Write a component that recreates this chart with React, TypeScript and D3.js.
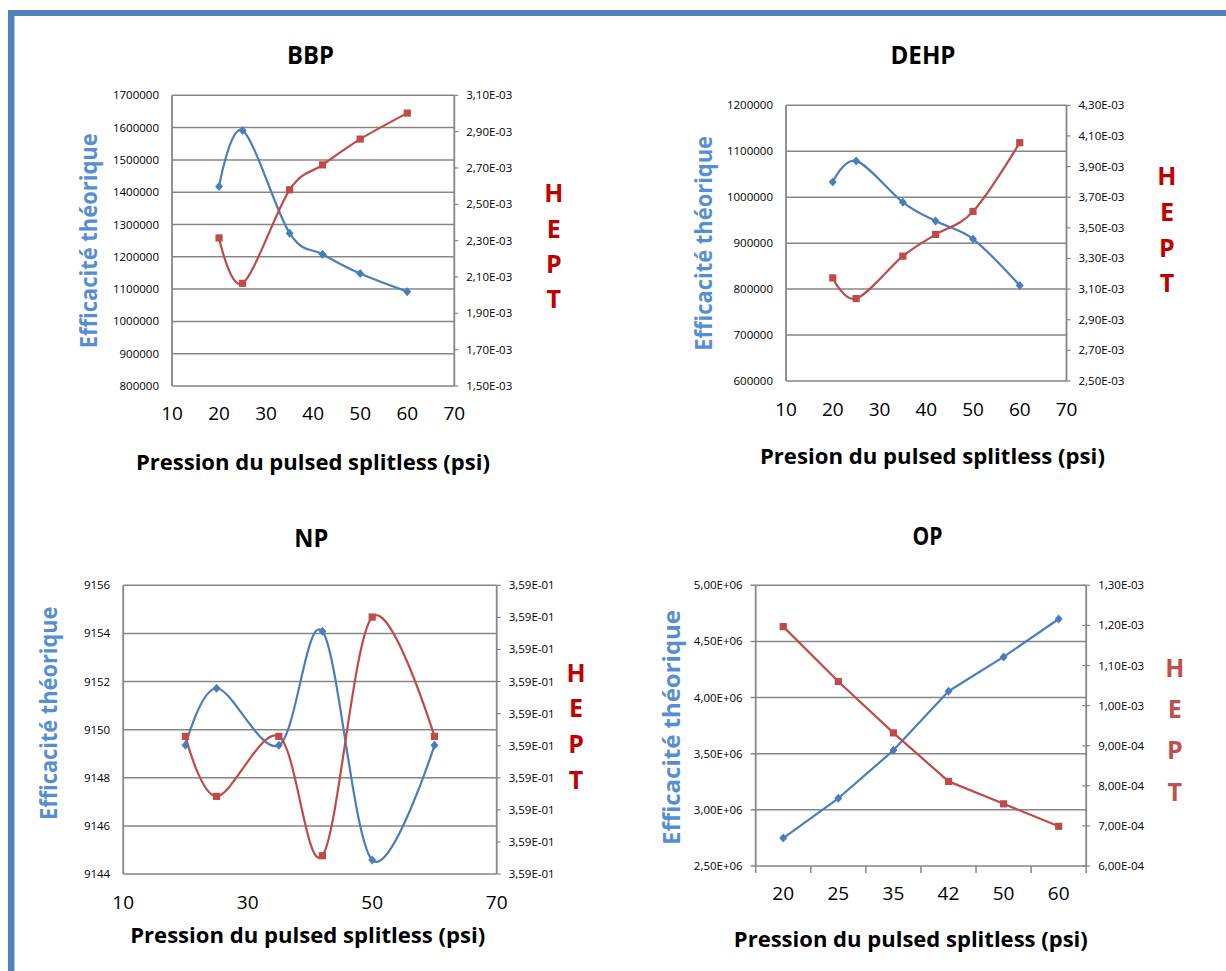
import React from "react";
import * as d3 from "d3";

// ---------- DATA ----------
const pressures = [20, 25, 35, 42, 50, 60];
const opCategories = ["20", "25", "35", "42", "50", "60"];

const bbpEfficacite = [1418000, 1591000, 1273000, 1208000, 1148000, 1092000];
const bbpHept = [2.315e-3, 2.065e-3, 2.58e-3, 2.717e-3, 2.859e-3, 3.002e-3];

const dehpEfficacite = [1033000, 1079000, 989000, 948000, 909000, 808000];
const dehpHept = [3.173e-3, 3.038e-3, 3.315e-3, 3.457e-3, 3.607e-3, 4.056e-3];

const npEfficacite = [9149.35, 9151.72, 9149.35, 9154.09, 9144.58, 9149.35];
const npHept = [0.3590029, 0.3589842, 0.3590029, 0.3589657, 0.3590401, 0.3590029];

const opEfficacite = [2.749e6, 3.103e6, 3.53e6, 4.056e6, 4.362e6, 4.7e6];
const opHept = [1.197e-3, 1.06e-3, 0.932e-3, 0.811e-3, 0.755e-3, 0.699e-3];

const bbpLeftTicks = [800000, 900000, 1000000, 1100000, 1200000, 1300000, 1400000, 1500000, 1600000, 1700000];
const bbpRightTicks = [1.5e-3, 1.7e-3, 1.9e-3, 2.1e-3, 2.3e-3, 2.5e-3, 2.7e-3, 2.9e-3, 3.1e-3];
const dehpLeftTicks = [600000, 700000, 800000, 900000, 1000000, 1100000, 1200000];
const dehpRightTicks = [2.5e-3, 2.7e-3, 2.9e-3, 3.1e-3, 3.3e-3, 3.5e-3, 3.7e-3, 3.9e-3, 4.1e-3, 4.3e-3];
const npLeftTicks = [9144, 9146, 9148, 9150, 9152, 9154, 9156];
const npRightTicks = [0.35896, 0.35897, 0.35898, 0.35899, 0.359, 0.35901, 0.35902, 0.35903, 0.35904, 0.35905];
const opLeftTicks = [2.5e6, 3e6, 3.5e6, 4e6, 4.5e6, 5e6];
const opRightTicks = [6e-4, 7e-4, 8e-4, 9e-4, 1e-3, 1.1e-3, 1.2e-3, 1.3e-3];
const xTicksTen = [10, 20, 30, 40, 50, 60, 70];
const xTicksTwenty = [10, 30, 50, 70];

const yTitle = "Efficacité théorique";
const heptLetters = ["H", "E", "P", "T"];

// ---------- STYLE ----------
const BLUE = "#4A7EBB";
const RED = "#BE4B48";
const GRID = "#868686";
const FONT = "'Open Sans', 'Liberation Sans', sans-serif";

function sci(v: number): string {
  const s = v.toExponential(2);
  const [m, e] = s.split("e");
  const n = parseInt(e, 10);
  return m.replace(".", ",") + "E" + (n < 0 ? "-" : "+") + String(Math.abs(n)).padStart(2, "0");
}
const plain = (v: number) => String(Math.round(v));

interface PanelProps {
  title: string;
  titleX: number;
  titleY: number;
  titleLen: number;
  xTitle: string;
  xTitleX: number;
  xTitleY: number;
  xTitleLen: number;
  yTitleX: number;
  yTitleY: number;
  yTitleLen: number;
  yTitleColor: string;
  heptX: number;
  heptY: number[];
  heptColor: string;
  x0: number;
  x1: number;
  y0: number;
  y1: number;
  categorical: boolean;
  xDomain?: [number, number];
  xTicks?: number[];
  xLabelY: number;
  leftTicks: number[];
  rightTicks: number[];
  leftFmt: (v: number) => string;
  rightFmt: (v: number) => string;
  blue: number[];
  red: number[];
  smooth: boolean;
  leftTickMarks: boolean;
}

function Panel(p: PanelProps) {
  const leftY = d3
    .scaleLinear()
    .domain([p.leftTicks[0], p.leftTicks[p.leftTicks.length - 1]])
    .range([p.y1, p.y0]);
  const rightY = d3
    .scaleLinear()
    .domain([p.rightTicks[0], p.rightTicks[p.rightTicks.length - 1]])
    .range([p.y1, p.y0]);

  let xPos: (i: number) => number;
  let band: d3.ScaleBand<string> | null = null;
  let lin: d3.ScaleLinear<number, number> | null = null;
  if (p.categorical) {
    band = d3.scaleBand<string>().domain(opCategories).range([p.x0, p.x1]);
    xPos = (i) => (band as d3.ScaleBand<string>)(opCategories[i])! + (band as d3.ScaleBand<string>).bandwidth() / 2;
  } else {
    lin = d3.scaleLinear().domain(p.xDomain!).range([p.x0, p.x1]);
    xPos = (i) => (lin as d3.ScaleLinear<number, number>)(pressures[i]);
  }

  const curve = p.smooth ? d3.curveCardinal.tension(0) : d3.curveLinear;
  const blueLine = d3
    .line<number>()
    .x((_, i) => xPos(i))
    .y((d) => leftY(d))
    .curve(curve);
  const redLine = d3
    .line<number>()
    .x((_, i) => xPos(i))
    .y((d) => rightY(d))
    .curve(curve);

  return (
    <g>
      <text
        x={p.titleX}
        y={p.titleY}
        textAnchor="middle"
        fontFamily={FONT}
        fontWeight="bold"
        fontSize={25}
        textLength={p.titleLen}
        lengthAdjust="spacingAndGlyphs"
        fill="#000"
      >
        {p.title}
      </text>

      {p.leftTicks.map((t) => (
        <line
          key={"g" + t}
          x1={p.leftTickMarks ? p.x0 - 5 : p.x0}
          x2={p.x1}
          y1={leftY(t)}
          y2={leftY(t)}
          stroke={GRID}
          strokeWidth={1.5}
        />
      ))}
      <line x1={p.x0} x2={p.x0} y1={p.y0} y2={p.y1} stroke={GRID} strokeWidth={1.8} />
      <line x1={p.x1} x2={p.x1} y1={p.y0} y2={p.y1} stroke={GRID} strokeWidth={1.8} />

      {p.rightTicks.map((t) => (
        <line
          key={"rt" + t}
          x1={p.categorical ? p.x1 - 4 : p.x1}
          x2={p.x1 + 4}
          y1={rightY(t)}
          y2={rightY(t)}
          stroke={GRID}
          strokeWidth={1.2}
        />
      ))}

      {band &&
        d3.range(opCategories.length + 1).map((i) => {
          const bx = p.x0 + i * band!.bandwidth();
          return <line key={"ct" + i} x1={bx} x2={bx} y1={p.y1} y2={p.y1 + 7} stroke={GRID} strokeWidth={1.5} />;
        })}

      {p.leftTicks.map((t) => (
        <text
          key={"ll" + t}
          x={p.x0 - 13}
          y={leftY(t)}
          dy="0.35em"
          textAnchor="end"
          fontFamily={FONT}
          fontSize={11.5}
          fill="#000"
        >
          {p.leftFmt(t)}
        </text>
      ))}
      {p.rightTicks.map((t) => (
        <text
          key={"rl" + t}
          x={p.x1 + 12}
          y={rightY(t)}
          dy="0.35em"
          textAnchor="start"
          fontFamily={FONT}
          fontSize={11.5}
          fill="#000"
        >
          {p.rightFmt(t)}
        </text>
      ))}

      {lin &&
        p.xTicks!.map((t) => (
          <text
            key={"xl" + t}
            x={lin!(t)}
            y={p.xLabelY}
            dy="0.36em"
            textAnchor="middle"
            fontFamily={FONT}
            fontSize={19}
            fill="#000"
          >
            {t}
          </text>
        ))}
      {band &&
        opCategories.map((c) => (
          <text
            key={"xc" + c}
            x={band!(c)! + band!.bandwidth() / 2}
            y={p.xLabelY}
            dy="0.36em"
            textAnchor="middle"
            fontFamily={FONT}
            fontSize={19}
            fill="#000"
          >
            {c}
          </text>
        ))}

      <path d={blueLine(p.blue) || ""} fill="none" stroke={BLUE} strokeWidth={2.2} strokeLinejoin="round" />
      <path d={redLine(p.red) || ""} fill="none" stroke={RED} strokeWidth={2.2} strokeLinejoin="round" />
      {p.blue.map((v, i) => {
        const cx = xPos(i);
        const cy = leftY(v);
        return <path key={"bm" + i} d={`M${cx},${cy - 4.5}L${cx + 4},${cy}L${cx},${cy + 4.5}L${cx - 4},${cy}Z`} fill={BLUE} />;
      })}
      {p.red.map((v, i) => {
        const cx = xPos(i);
        const cy = rightY(v);
        return <rect key={"rm" + i} x={cx - 3.6} y={cy - 3.6} width={7.2} height={7.2} fill={RED} />;
      })}

      <text
        x={p.xTitleX}
        y={p.xTitleY}
        textAnchor="middle"
        fontFamily={FONT}
        fontWeight="bold"
        fontSize={22}
        textLength={p.xTitleLen}
        lengthAdjust="spacingAndGlyphs"
        fill="#000"
      >
        {p.xTitle}
      </text>

      <text
        transform={`translate(${p.yTitleX},${p.yTitleY}) rotate(-90)`}
        textAnchor="middle"
        fontFamily={FONT}
        fontWeight="bold"
        fontSize={24}
        textLength={p.yTitleLen}
        lengthAdjust="spacingAndGlyphs"
        fill={p.yTitleColor}
      >
        {yTitle}
      </text>

      {heptLetters.map((l, i) => (
        <text
          key={"h" + i}
          x={p.heptX}
          y={p.heptY[i]}
          textAnchor="middle"
          fontFamily={FONT}
          fontWeight="bold"
          fontSize={25}
          fill={p.heptColor}
        >
          {l}
        </text>
      ))}
    </g>
  );
}

export default function App() {
  return (
    <svg
      width={1226}
      height={971}
      style={{ position: "absolute", left: 0, top: 0, display: "block", background: "#fff" }}
    >
      <rect x={0} y={0} width={1226} height={971} fill="#fff" />
      <rect x={8} y={10} width={1218} height={6} fill="#4F81BD" />
      <rect x={8} y={10} width={6.5} height={961} fill="#4F81BD" />

      <Panel
        title="BBP"
        titleX={310.6}
        titleY={64}
        titleLen={47}
        xTitle="Pression du pulsed splitless (psi)"
        xTitleX={312.9}
        xTitleY={470}
        xTitleLen={354}
        yTitleX={97}
        yTitleY={240.8}
        yTitleLen={215}
        yTitleColor="#568ED4"
        heptX={553.8}
        heptY={[202, 238, 273, 308]}
        heptColor="#C00000"
        x0={172}
        x1={454.3}
        y0={95.3}
        y1={386}
        categorical={false}
        xDomain={[10, 70]}
        xTicks={xTicksTen}
        xLabelY={413}
        leftTicks={bbpLeftTicks}
        rightTicks={bbpRightTicks}
        leftFmt={plain}
        rightFmt={sci}
        blue={bbpEfficacite}
        red={bbpHept}
        smooth={true}
        leftTickMarks={false}
      />
      <Panel
        title="DEHP"
        titleX={923}
        titleY={64}
        titleLen={65}
        xTitle="Presion du pulsed splitless (psi)"
        xTitleX={932.4}
        xTitleY={464}
        xTitleLen={345}
        yTitleX={712}
        yTitleY={243.3}
        yTitleLen={214.7}
        yTitleColor="#568ED4"
        heptX={1166.9}
        heptY={[185, 220.7, 256.7, 292]}
        heptColor="#C00000"
        x0={786}
        x1={1066.5}
        y0={105.3}
        y1={381}
        categorical={false}
        xDomain={[10, 70]}
        xTicks={xTicksTen}
        xLabelY={409}
        leftTicks={dehpLeftTicks}
        rightTicks={dehpRightTicks}
        leftFmt={plain}
        rightFmt={sci}
        blue={dehpEfficacite}
        red={dehpHept}
        smooth={true}
        leftTickMarks={false}
      />
      <Panel
        title="NP"
        titleX={311.3}
        titleY={547}
        titleLen={34}
        xTitle="Pression du pulsed splitless (psi)"
        xTitleX={307.7}
        xTitleY={943.3}
        xTitleLen={355}
        yTitleX={57}
        yTitleY={713.3}
        yTitleLen={213.3}
        yTitleColor="#568ED4"
        heptX={576}
        heptY={[682.3, 717.3, 753.3, 789]}
        heptColor="#C00000"
        x0={123.2}
        x1={496.7}
        y0={585.3}
        y1={874}
        categorical={false}
        xDomain={[10, 70]}
        xTicks={xTicksTwenty}
        xLabelY={901.7}
        leftTicks={npLeftTicks}
        rightTicks={npRightTicks}
        leftFmt={plain}
        rightFmt={sci}
        blue={npEfficacite}
        red={npHept}
        smooth={true}
        leftTickMarks={false}
      />
      <Panel
        title="OP"
        titleX={927.5}
        titleY={545}
        titleLen={30}
        xTitle="Pression du pulsed splitless (psi)"
        xTitleX={910.8}
        xTitleY={946.7}
        xTitleLen={354}
        yTitleX={680}
        yTitleY={727.5}
        yTitleLen={235}
        yTitleColor="#568ED4"
        heptX={1174.8}
        heptY={[676.7, 718.3, 759, 800.7]}
        heptColor="#C0504D"
        x0={755.7}
        x1={1086.2}
        y0={585.3}
        y1={866}
        categorical={true}
        xLabelY={893.3}
        leftTicks={opLeftTicks}
        rightTicks={opRightTicks}
        leftFmt={sci}
        rightFmt={sci}
        blue={opEfficacite}
        red={opHept}
        smooth={false}
        leftTickMarks={true}
      />
    </svg>
  );
}
